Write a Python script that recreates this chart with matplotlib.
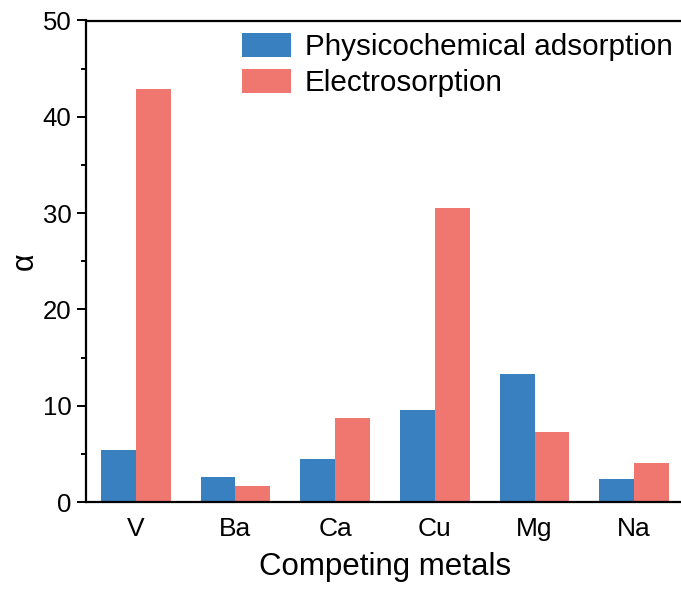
import numpy as np
import matplotlib.pyplot as plt
from matplotlib.ticker import MultipleLocator

plt.rcParams['font.family'] = ['Liberation Sans', 'DejaVu Sans']

metals = ['V', 'Ba', 'Ca', 'Cu', 'Mg', 'Na']
physico = [5.39, 2.63, 4.50, 9.54, 13.25, 2.35]
electro = [42.84, 1.66, 8.75, 30.57, 7.29, 4.08]

blue = '#3880BF'
red = '#F07770'

fig = plt.figure(figsize=(6.81, 5.92), dpi=100)
ax = fig.add_axes([86/681, 90/592, 598/681, 481.5/592])

x = np.arange(len(metals))
w = 0.35
ax.bar(x - w/2, physico, w, color=blue, label='Physicochemical adsorption')
ax.bar(x + w/2, electro, w, color=red, label='Electrosorption')

ax.set_xlim(-0.5, 5.5)
ax.set_ylim(0, 50)
ax.set_xticks(x)
ax.set_xticklabels(metals)
ax.tick_params(axis='x', length=0, labelsize=19, pad=11)
ax.yaxis.set_major_locator(MultipleLocator(10))
ax.yaxis.set_minor_locator(MultipleLocator(5))
ax.tick_params(axis='y', which='major', length=6.5, width=1.4, labelsize=18.5,
               direction='out', pad=4)
ax.tick_params(axis='y', which='minor', length=3.4, width=1.4, direction='out')
for s in ax.spines.values():
    s.set_linewidth(1.6)

ax.set_xlabel('Competing metals', fontsize=22.5, labelpad=8)
ax.set_ylabel('α', fontsize=22, labelpad=2)

fig.legend(*ax.get_legend_handles_labels(), loc='upper left',
           bbox_to_anchor=(242/681, 1 - 33/592), frameon=False, fontsize=21.3,
           handlelength=1.65, handleheight=0.85, handletextpad=0.47,
           labelspacing=0.28, borderpad=0, borderaxespad=0)

fig.savefig('out.png', dpi=100)
